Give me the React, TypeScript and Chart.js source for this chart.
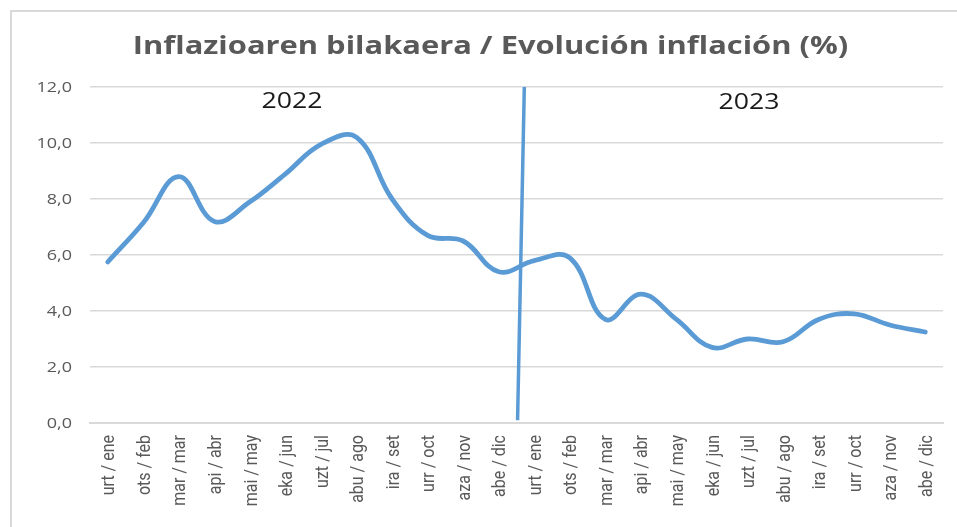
import React, { useEffect, useRef } from "react";
import { Chart, registerables } from "chart.js";

Chart.register(...registerables);

const titleText = "Inflazioaren bilakaera / Evolución inflación (%)";

const categories = [
  "urt / ene", "ots / feb", "mar / mar", "api / abr", "mai / may", "eka / jun",
  "uzt / jul", "abu / ago", "ira / set", "urr / oct", "aza / nov", "abe / dic",
  "urt / ene", "ots / feb", "mar / mar", "api / abr", "mai / may", "eka / jun",
  "uzt / jul", "abu / ago", "ira / set", "urr / oct", "aza / nov", "abe / dic",
];

const inflation = [
  5.75, 7.15, 8.8, 7.2, 7.9, 8.9, 9.95, 10.2, 8.0, 6.7, 6.5, 5.4,
  5.8, 5.9, 3.7, 4.6, 3.7, 2.7, 3.0, 2.9, 3.7, 3.9, 3.5, 3.25,
];

const dividerX = [11.72, 11.53];
const dividerY = [12, 0.1];

const yearLabels = ["2022", "2023"];
const yearLabelX = [5.18, 18.04];
const yearLabelY = [11.48, 11.42];

const yTicks = [0, 2, 4, 6, 8, 10, 12];

function stretchedText(ctx: any, text: string, x: number, y: number, sx: number, align: string) {
  ctx.save();
  ctx.translate(x, y);
  ctx.scale(sx, 1);
  ctx.textAlign = align;
  ctx.textBaseline = "middle";
  ctx.fillText(text, 0, 0);
  ctx.restore();
}

const textPlugin = {
  id: "texts",
  afterDatasetsDraw(chart: any) {
    const { ctx, scales, chartArea } = chart;
    const xs = scales.x;
    const ys = scales.y;
    ctx.save();
    // title
    ctx.font = "bold 25px 'Open Sans'";
    ctx.fillStyle = "#595959";
    stretchedText(ctx, titleText, 490.5, 47, 1.235, "center");
    // y tick labels
    ctx.font = "15px 'Open Sans'";
    ctx.fillStyle = "#595959";
    yTicks.forEach((v) => {
      stretchedText(ctx, v.toFixed(1).replace(".", ","), chartArea.left - 18, ys.getPixelForValue(v) + 1, 1.2, "right");
    });
    // x tick labels (rotated)
    ctx.font = "16px 'Liberation Sans Narrow', 'Roboto'";
    ctx.fillStyle = "#595959";
    categories.forEach((c, i) => {
      ctx.save();
      ctx.translate(xs.getPixelForValue(i) + 2, chartArea.bottom + 12);
      ctx.rotate(-Math.PI / 2);
      ctx.scale(1, 1.15);
      ctx.textAlign = "right";
      ctx.textBaseline = "middle";
      ctx.fillText(c, 0, 0);
      ctx.restore();
    });
    // year labels
    ctx.font = "21px 'Open Sans'";
    ctx.fillStyle = "#1a1a1a";
    yearLabels.forEach((t, i) => {
      stretchedText(ctx, t, xs.getPixelForValue(yearLabelX[i]), ys.getPixelForValue(yearLabelY[i]), 1.27, "center");
    });
    ctx.restore();
  },
};

export default function App() {
  const ref = useRef<HTMLCanvasElement>(null);
  useEffect(() => {
    const chart = new Chart(ref.current!, {
      type: "line",
      data: {
        datasets: [
          {
            data: inflation.map((v, i) => ({ x: i, y: v })),
            borderColor: "#5b9bd5",
            borderWidth: 4.8,
            tension: 0.4,
            pointRadius: 0,
            fill: false,
            borderCapStyle: "round",
          },
          {
            data: dividerX.map((x, i) => ({ x, y: dividerY[i] })),
            borderColor: "#5b9bd5",
            borderWidth: 3.5,
            tension: 0,
            pointRadius: 0,
            fill: false,
          },
        ],
      },
      options: {
        animation: false,
        responsive: false,
        layout: { padding: { left: 90, right: 14, top: 87, bottom: 0 } },
        plugins: {
          legend: { display: false },
          tooltip: { enabled: false },
          title: { display: false },
        },
        scales: {
          x: {
            type: "linear",
            min: -0.5,
            max: 23.5,
            afterBuildTicks: (scale: any) => {
              scale.ticks = categories.map((_, i) => ({ value: i }));
            },
            afterFit: (scale: any) => {
              scale.height = 104;
            },
            ticks: { display: false },
            grid: { display: false, drawTicks: false },
            border: { display: true, color: "#d9d9d9", width: 2 },
          },
          y: {
            min: 0,
            max: 12,
            afterBuildTicks: (scale: any) => {
              scale.ticks = yTicks.map((v) => ({ value: v }));
            },
            afterFit: (scale: any) => {
              scale.width = 0;
            },
            ticks: { display: false },
            grid: { color: "#d9d9d9", lineWidth: 1.5, drawTicks: false },
            border: { display: false },
          },
        },
      },
      plugins: [textPlugin],
    });
    return () => chart.destroy();
  }, []);
  return (
    <div style={{ position: "fixed", left: 0, top: 0, width: 957, height: 527, background: "#fff", overflow: "hidden" }}>
      <div
        style={{
          position: "absolute",
          left: 10,
          top: 10,
          width: 1000,
          height: 600,
          borderLeft: "2px solid #d9d9d9",
          borderTop: "2px solid #d9d9d9",
        }}
      />
      <canvas ref={ref} width={957} height={527} style={{ position: "absolute", left: 0, top: 0 }} />
    </div>
  );
}
